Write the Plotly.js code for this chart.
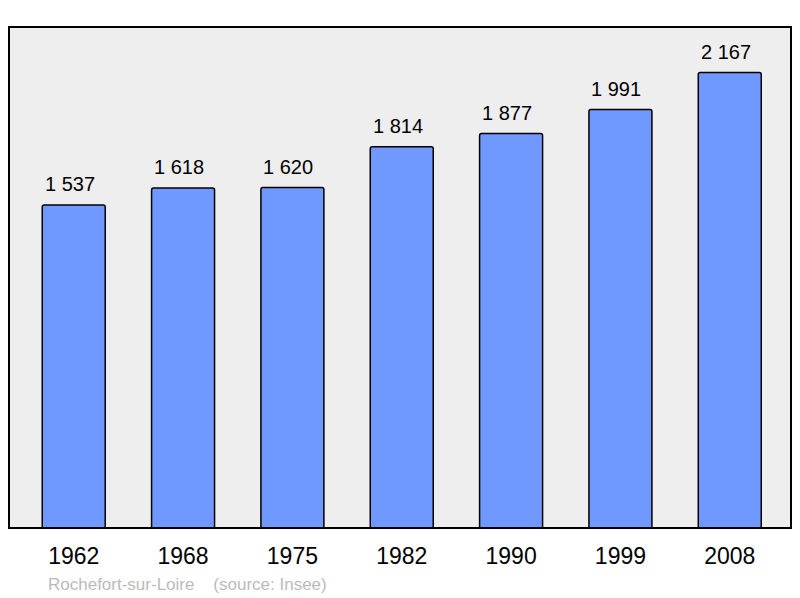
<!DOCTYPE html>
<html>
<head>
<meta charset="utf-8">
<script src="https://cdn.plot.ly/plotly-3.0.1.min.js"></script>
<style>html,body{margin:0;padding:0;background:#fff;}#chart{width:800px;height:598px;}</style>
</head>
<body>
<div id="chart"></div>
<script>
const years = ["1962", "1968", "1975", "1982", "1990", "1999", "2008"];
const population = [1537, 1618, 1620, 1814, 1877, 1991, 2167];
const footerText = "Rochefort-sur-Loire\u00a0\u00a0\u00a0\u00a0(source: Insee)";

function fmt(v) {
  return String(v).replace(/\B(?=(\d{3})+(?!\d))/g, "\u00a0");
}

const xIdx = years.map((_, i) => i);

const trace = {
  type: "bar",
  x: xIdx,
  y: population,
  width: 0.576,
  marker: { color: "#7099ff", line: { color: "#000", width: 1.5 }, cornerradius: 2 },
  hoverinfo: "none"
};

const annotations = population.map((v, i) => ({
  x: i, y: v, xref: "x", yref: "y",
  text: fmt(v), showarrow: false,
  yanchor: "bottom", yshift: 8, xshift: -4,
  font: { family: "Liberation Sans, Arial, sans-serif", size: 20, color: "#000" }
}));
annotations.push({
  xref: "paper", yref: "paper", x: 37 / 782, y: 0,
  xanchor: "left", yanchor: "top", yshift: -45,
  text: footerText, showarrow: false,
  font: { family: "Liberation Sans, Arial, sans-serif", size: 17, color: "#bbbbbb" }
});

const layout = {
  width: 800, height: 598,
  margin: { l: 9, r: 9, t: 27, b: 70 },
  paper_bgcolor: "#ffffff",
  plot_bgcolor: "#eeeeee",
  showlegend: false,
  xaxis: {
    range: [-0.592, 6.56],
    tickvals: xIdx, ticktext: years,
    showgrid: false, zeroline: false, showline: false, ticks: "",
    ticklabelstandoff: 12,
    tickfont: { family: "Liberation Sans, Arial, sans-serif", size: 23, color: "#000" },
    fixedrange: true
  },
  yaxis: {
    range: [0, 2384],
    showgrid: false, zeroline: false, showline: false, showticklabels: false, ticks: "",
    fixedrange: true
  },
  shapes: [{
    type: "rect", xref: "paper", yref: "paper", x0: 0, x1: 1, y0: 0, y1: 1,
    line: { color: "#000", width: 2 }, fillcolor: "rgba(0,0,0,0)", layer: "above"
  }],
  annotations: annotations
};

Plotly.newPlot("chart", [trace], layout, { displayModeBar: false, staticPlot: true });
</script>
</body>
</html>
